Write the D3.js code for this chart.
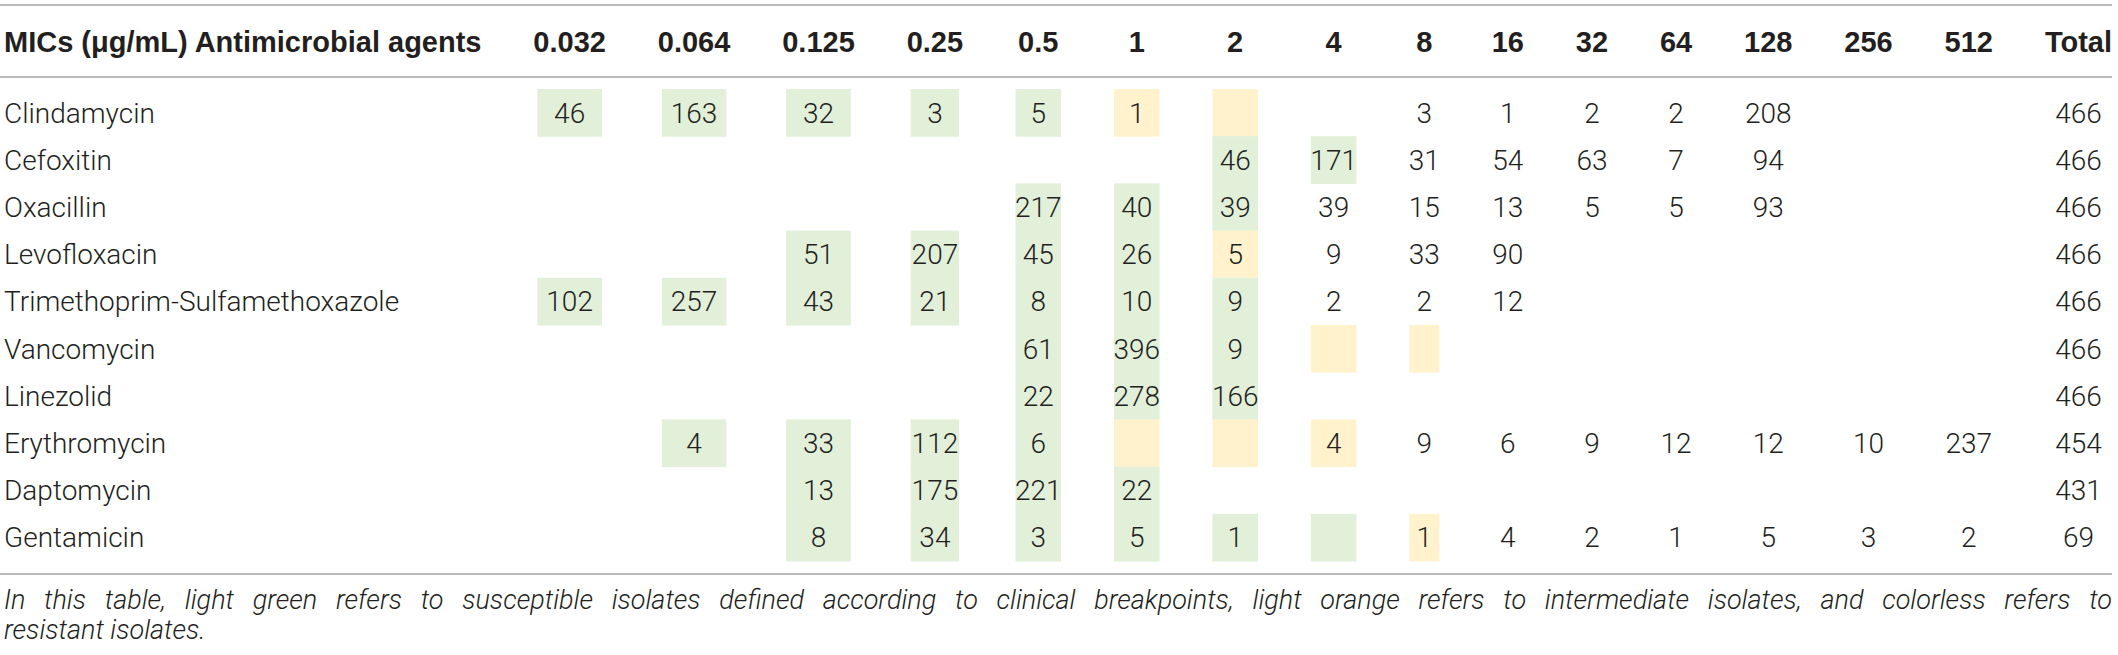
<!DOCTYPE html>
<html>
<head>
<meta charset="utf-8">
<script src="https://cdn.jsdelivr.net/npm/d3@7"></script>
<style>
  body { margin: 0; background: #fff; }
  svg { display: block; }
</style>
</head>
<body>
<div id="table"></div>
<script>
// MIC columns (µg/mL)
const mics = ["0.032", "0.064", "0.125", "0.25", "0.5", "1", "2", "4", "8", "16", "32", "64", "128", "256", "512"];

const agents = [
  "Clindamycin", "Cefoxitin", "Oxacillin", "Levofloxacin", "Trimethoprim-Sulfamethoxazole",
  "Vancomycin", "Linezolid", "Erythromycin", "Daptomycin", "Gentamicin"
];

// number of isolates per MIC, null = empty cell
const counts = [
  [46, 163, 32, 3, 5, 1, null, null, 3, 1, 2, 2, 208, null, null],
  [null, null, null, null, null, null, 46, 171, 31, 54, 63, 7, 94, null, null],
  [null, null, null, null, 217, 40, 39, 39, 15, 13, 5, 5, 93, null, null],
  [null, null, 51, 207, 45, 26, 5, 9, 33, 90, null, null, null, null, null],
  [102, 257, 43, 21, 8, 10, 9, 2, 2, 12, null, null, null, null, null],
  [null, null, null, null, 61, 396, 9, null, null, null, null, null, null, null, null],
  [null, null, null, null, 22, 278, 166, null, null, null, null, null, null, null, null],
  [null, 4, 33, 112, 6, null, null, 4, 9, 6, 9, 12, 12, 10, 237],
  [null, null, 13, 175, 221, 22, null, null, null, null, null, null, null, null, null],
  [null, null, 8, 34, 3, 5, 1, null, 1, 4, 2, 1, 5, 3, 2]
];

const totals = [466, 466, 466, 466, 466, 466, 466, 454, 431, 69];

// S = susceptible, I = intermediate, . = resistant / colorless
const categories = [
  "SSSSSII........",
  "......SS.......",
  "....SSS........",
  "..SSSSI........",
  "SSSSSSS........",
  "....SSSII......",
  "....SSS........",
  ".SSSSIII.......",
  "..SSSS.........",
  "..SSSSSSI......"
];

const headerLabel = "MICs (\u03bcg/mL) Antimicrobial agents";
const totalLabel = "Total";
const captionLines = [
  "In this table, light green refers to susceptible isolates defined according to clinical breakpoints, light orange refers to intermediate isolates, and colorless refers to",
  "resistant isolates."
];

const width = 2118, height = 655;
const left = 4, right = 2112;
const bodyFont = "Roboto, 'Liberation Sans', sans-serif";
const headFont = "'Liberation Sans', Arial, sans-serif";
const fill = { S: "#e2efd9", I: "#fff2cc" };

const svg = d3.select("#table").append("svg")
  .attr("width", width)
  .attr("height", height);

// measure text to lay out columns like an auto-width table
function measure(text, font, weight, size) {
  const t = svg.append("text")
    .attr("font-family", font).attr("font-weight", weight)
    .attr("font-size", size).text(text);
  const w = t.node().getComputedTextLength();
  t.remove();
  return w;
}

const colKeys = mics.concat([totalLabel]);
const headW = colKeys.map(k => measure(k, headFont, 700, 29));
const cellW = colKeys.map((k, j) => {
  const vals = j < mics.length ? counts.map(r => r[j]) : totals;
  return d3.max(vals, v => v == null ? 0 : measure(String(v), bodyFont, 300, 28));
});
const contentW = headW.map((w, j) => Math.max(w, cellW[j]));
const labelW = Math.max(measure(headerLabel, headFont, 700, 29),
  d3.max(agents, a => measure(a, bodyFont, 300, 28)));
const gap = (right - left - labelW - d3.sum(contentW)) / colKeys.length;

let cursor = left + labelW;
const centers = contentW.map(w => {
  cursor += gap;
  const c = cursor + w / 2;
  cursor += w;
  return c;
});
const x = d3.scaleOrdinal().domain(colKeys).range(centers);
const boxW = d3.scaleOrdinal().domain(colKeys)
  .range(colKeys.map((k, j) => Math.max(headW[j] - 8, cellW[j] - 1)));

const y = d3.scaleBand().domain(agents).range([89, 561]).padding(0);

// rules
svg.append("g")
  .selectAll("line")
  .data([5, 77, 574])
  .join("line")
  .attr("x1", 0).attr("x2", right)
  .attr("y1", d => d).attr("y2", d => d)
  .attr("stroke", "#a3a3a3")
  .attr("stroke-width", 1.5);

// header
const head = svg.append("g")
  .attr("font-family", headFont)
  .attr("font-weight", 700)
  .attr("font-size", 29)
  .attr("fill", "#231f20");

head.append("text").attr("x", left).attr("y", 52).text(headerLabel);
head.selectAll("text.col")
  .data(colKeys)
  .join("text")
  .attr("class", "col")
  .attr("x", d => x(d))
  .attr("y", 52)
  .attr("text-anchor", "middle")
  .text(d => d);

// cells
const cells = [];
agents.forEach((a, i) => {
  mics.forEach((m, j) => {
    cells.push({ agent: a, col: m, value: counts[i][j], cat: categories[i][j] });
  });
  cells.push({ agent: a, col: totalLabel, value: totals[i], cat: "." });
});

svg.append("g")
  .selectAll("rect")
  .data(cells.filter(d => fill[d.cat]))
  .join("rect")
  .attr("x", d => x(d.col) - boxW(d.col) / 2)
  .attr("y", d => y(d.agent))
  .attr("width", d => boxW(d.col))
  .attr("height", y.bandwidth() + 0.5)
  .attr("fill", d => fill[d.cat]);

const body = svg.append("g")
  .attr("font-family", bodyFont)
  .attr("font-weight", 300)
  .attr("font-size", 28)
  .attr("fill", "#231f20");

body.selectAll("text.agent")
  .data(agents)
  .join("text")
  .attr("class", "agent")
  .attr("x", left)
  .attr("y", d => y(d) + y.bandwidth() / 2)
  .attr("dy", "0.36em")
  .text(d => d);

body.selectAll("text.val")
  .data(cells.filter(d => d.value != null))
  .join("text")
  .attr("class", "val")
  .attr("x", d => x(d.col))
  .attr("y", d => y(d.agent) + y.bandwidth() / 2)
  .attr("dy", "0.36em")
  .attr("text-anchor", "middle")
  .text(d => d.value);

// caption, first line justified to the table width
const cap = svg.append("g")
  .attr("font-family", bodyFont)
  .attr("font-weight", 300)
  .attr("font-style", "italic")
  .attr("font-size", 27)
  .attr("fill", "#231f20");

cap.selectAll("text")
  .data(captionLines)
  .join("text")
  .attr("x", left)
  .attr("y", (d, i) => 609 + i * 30)
  .text(d => d)
  .each(function (d, i) {
    if (i === captionLines.length - 1) return;
    const natural = this.getComputedTextLength();
    const spaces = d.split(" ").length - 1;
    d3.select(this).attr("word-spacing", Math.max(0, (right - left - natural) / spaces));
  });
</script>
</body>
</html>
